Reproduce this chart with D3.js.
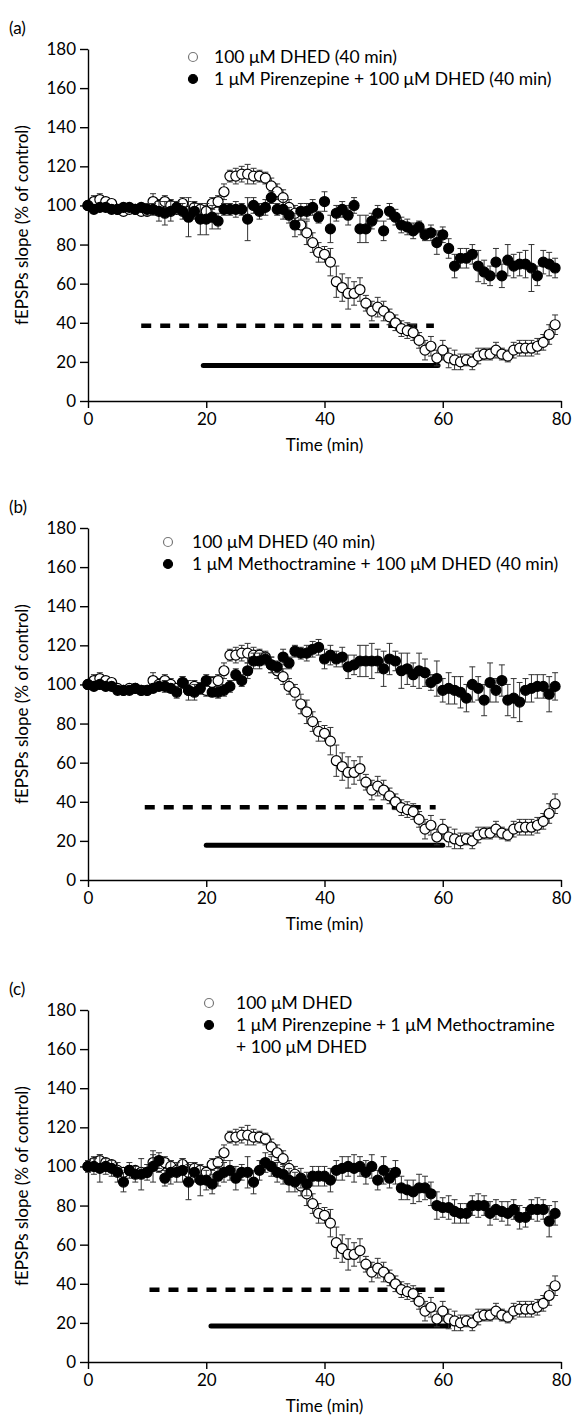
<!DOCTYPE html>
<html><head><meta charset="utf-8">
<script src="https://cdn.jsdelivr.net/npm/d3@7"></script>
<style>
body{margin:0;background:#fff}
svg{display:block}
text{font-family:Lato,'Open Sans',sans-serif;fill:#000}
</style>
</head><body>
<svg id="fig" width="578" height="1419"></svg>
<script>
// ---- data ----
const times = d3.range(0, 80); // minutes, one sample per minute
const xTicks = [0, 20, 40, 60, 80];
const yTicks = [0, 20, 40, 60, 80, 100, 120, 140, 160, 180];

// 100 uM DHED alone (open circles, same control data in all panels)
const dhed = [100,102,103,102,101, 98,97,98,98,97, 97,102,100,102,100, 98,101,97,99,98,
  97,101,102,107,115, 115,116,116,115,115, 114,110,107,104,99, 96,90,86,81,76,
  75,71,61,58,55, 55,57,50,46,48, 46,43,40,37,36, 35,31,26,28,22,
  26,22,21,20,21, 20,23,24,24,26, 24,23,26,27,27, 27,28,30,34,39];
const dhedErr = [2,3,3,2,2, 2,2,2,2,2, 2,4,3,3,3, 2,3,5,3,3, 3,3,3,4,3, 4,4,5,4,3,
  3,4,4,4,4, 4,5,6,5,5, 4,7,8,7,8, 6,6,4,5,5, 5,4,4,4,4, 4,4,5,5,4,
  5,5,5,4,3, 4,4,3,3,4, 3,3,4,4,4, 4,4,4,5,5];

// (a) 1 uM Pirenzepine + DHED
const pirenzepine = [100,98,99,99,98, 98,99,99,98,99, 98,98,97,96,97, 99,97,94,97,93,
  93,94,92,98,98, 98,98,93,100,97, 99,104,98,98,95, 90,97,97,99,94,
  102,88,96,98,95, 100,88,88,92,96, 87,97,94,90,89, 87,89,85,86,81,
  85,78,69,73,73, 75,69,66,64,71, 64,72,69,70,70, 68,64,71,70,68];
const pirenzepineErr = [2,2,2,2,2, 2,2,2,2,2, 3,3,5,6,5, 3,4,10,4,8, 8,6,4,3,3, 4,3,11,4,4,
  4,3,3,5,4, 6,4,4,4,3, 5,7,4,4,5, 4,7,7,4,4, 5,4,4,4,4, 4,3,3,4,6,
  4,5,6,5,5, 5,8,6,5,7, 6,8,6,6,7, 12,5,6,6,5];

// (b) 1 uM Methoctramine + DHED
const methoctramine = [100,99,100,99,99, 97,97,97,98,97, 97,98,99,99,98, 96,101,97,96,98,
  102,96,96,97,99, 105,102,107,112,112, 113,110,109,114,111, 117,116,116,118,119,
  113,115,113,114,109, 110,112,112,112,112, 108,113,112,107,108, 105,107,106,101,103,
  97,98,97,96,93, 100,98,92,101,97, 102,92,93,91,97, 98,99,99,95,99];
const methoctramineErr = [2,2,2,2,2, 2,2,2,2,2, 2,2,2,3,2, 3,3,2,4,2, 3,2,3,3,3, 3,3,4,4,4,
  3,4,3,4,3, 3,3,4,4,4, 5,5,4,5,6, 5,8,8,9,6, 9,8,5,9,8, 6,9,7,4,9,
  6,8,7,8,7, 9,6,8,10,6, 8,8,10,10,6, 7,6,6,9,7];

// (c) 1 uM Pirenzepine + 1 uM Methoctramine + DHED
const both = [100,100,99,100,99, 97,92,98,96,96, 97,100,103,94,97, 97,98,92,97,93,
  93,91,95,97,98, 94,97,97,92,98, 102,100,97,96,93, 92,94,91,95,95,
  95,93,98,99,100, 99,100,97,100,93, 98,94,97,89,88, 87,89,89,86,80,
  79,79,77,76,76, 80,80,80,76,78, 77,76,78,74,74, 78,78,78,72,76];
const bothErr = [3,4,7,4,4, 5,5,4,4,8, 4,8,4,4,6, 5,6,9,5,8, 5,5,5,5,5, 6,4,8,6,5,
  5,5,5,5,6, 5,5,6,5,5, 5,6,5,6,5, 7,5,6,6,5, 7,5,6,6,5, 6,7,6,6,7,
  5,6,6,5,5, 5,6,5,6,5, 5,6,5,6,5, 5,6,5,8,6];

// drug application bars: [start min, end min, level]
const dashA = [9, 58.5, 38.5], solidA = [19.5, 59.2, 18.2];
const dashB = [9.6, 58.8, 37.2], solidB = [20, 60, 17.8];
const dashC = [10.4, 60.5, 37], solidC = [20.8, 61, 18.4];

const legendA = ["100 μM DHED (40 min)", "1 μM Pirenzepine + 100 μM DHED (40 min)"];
const legendB = ["100 μM DHED (40 min)", "1 μM Methoctramine + 100 μM DHED (40 min)"];
const legendC = ["100 μM DHED", "1 μM Pirenzepine + 1 μM Methoctramine", "+ 100 μM DHED"];

// ---- layout ----
const svg = d3.select("#fig");
const panels = [
  {label:"(a)", y0:401, filled:pirenzepine, filledErr:pirenzepineErr, dash:dashA, solid:solidA,
   legend:legendA, lx:193, ltx:214, ly:57},
  {label:"(b)", y0:880, filled:methoctramine, filledErr:methoctramineErr, dash:dashB, solid:solidB,
   legend:legendB, lx:168, ltx:192, ly:542},
  {label:"(c)", y0:1362, filled:both, filledErr:bothErr, dash:dashC, solid:solidC,
   legend:legendC, lx:209, ltx:236, ly:1003},
];
const H = 352, X0 = 88, X1 = 561;

panels.forEach(p => {
  const g = svg.append("g");
  const x = d3.scaleLinear().domain([0, 80]).range([X0, X1]);
  const y = d3.scaleLinear().domain([0, 180]).range([p.y0, p.y0 - H]);

  // axes
  const ya = g.append("g").attr("transform", `translate(${X0},0)`)
    .call(d3.axisLeft(y).tickValues(yTicks).tickSize(8).tickSizeOuter(0).tickPadding(4));
  const xa = g.append("g").attr("transform", `translate(0,${p.y0})`)
    .call(d3.axisBottom(x).tickValues(xTicks).tickSize(7).tickSizeOuter(0).tickPadding(5));
  [ya, xa].forEach(a => {
    a.selectAll("path,line").attr("stroke", "#000").attr("stroke-width", 1.4);
    a.selectAll("text").attr("font-size", 17).attr("font-family", "Lato,'Open Sans',sans-serif");
  });

  g.append("text").attr("x", (X0 + X1) / 2).attr("y", p.y0 + 50)
    .attr("text-anchor", "middle").attr("font-size", 17).text("Time (min)");
  g.append("text").attr("transform", `translate(28,${p.y0 - H / 2}) rotate(-90)`)
    .attr("text-anchor", "middle").attr("font-size", 17).text("fEPSPs slope (% of control)");
  g.append("text").attr("x", 9).attr("y", p.y0 - H - 15).attr("font-size", 17).text(p.label);

  // application bars
  g.append("line").attr("x1", x(p.dash[0])).attr("x2", x(p.dash[1]))
    .attr("y1", y(p.dash[2])).attr("y2", y(p.dash[2]))
    .attr("stroke", "#000").attr("stroke-width", 4.5).attr("stroke-dasharray", "10,9");
  g.append("line").attr("x1", x(p.solid[0])).attr("x2", x(p.solid[1]))
    .attr("y1", y(p.solid[2])).attr("y2", y(p.solid[2]))
    .attr("stroke", "#000").attr("stroke-width", 5).attr("stroke-linecap", "round");

  function drawSeries(vals, errs, open) {
    const s = g.append("g");
    const d = times.map((t, i) => ({t, v: vals[i], e: errs[i]}));
    const eb = s.append("g").attr("stroke", "#333").attr("stroke-width", 1);
    d.forEach(o => {
      eb.append("line").attr("x1", x(o.t)).attr("x2", x(o.t)).attr("y1", y(o.v - o.e)).attr("y2", y(o.v + o.e));
      eb.append("line").attr("x1", x(o.t) - 3).attr("x2", x(o.t) + 3).attr("y1", y(o.v + o.e)).attr("y2", y(o.v + o.e));
      eb.append("line").attr("x1", x(o.t) - 3).attr("x2", x(o.t) + 3).attr("y1", y(o.v - o.e)).attr("y2", y(o.v - o.e));
    });
    s.selectAll("circle").data(d).join("circle")
      .attr("cx", o => x(o.t)).attr("cy", o => y(o.v)).attr("r", 5)
      .attr("fill", open ? "#fff" : "#000").attr("stroke", "#000").attr("stroke-width", 1.2);
  }
  drawSeries(dhed, dhedErr, true);
  drawSeries(p.filled, p.filledErr, false);

  // legend
  p.legend.forEach((txt, i) => {
    const yy = p.ly + i * 22;
    if (i < 2) {
      g.append("circle").attr("cx", p.lx).attr("cy", yy).attr("r", 4.5)
        .attr("fill", i === 0 ? "#fff" : "#000").attr("stroke", i === 0 ? "#777" : "#000").attr("stroke-width", 1.2);
    }
    g.append("text").attr("x", p.ltx).attr("y", yy + 6).attr("font-size", 17.5).text(txt);
  });
});
</script>
</body></html>
